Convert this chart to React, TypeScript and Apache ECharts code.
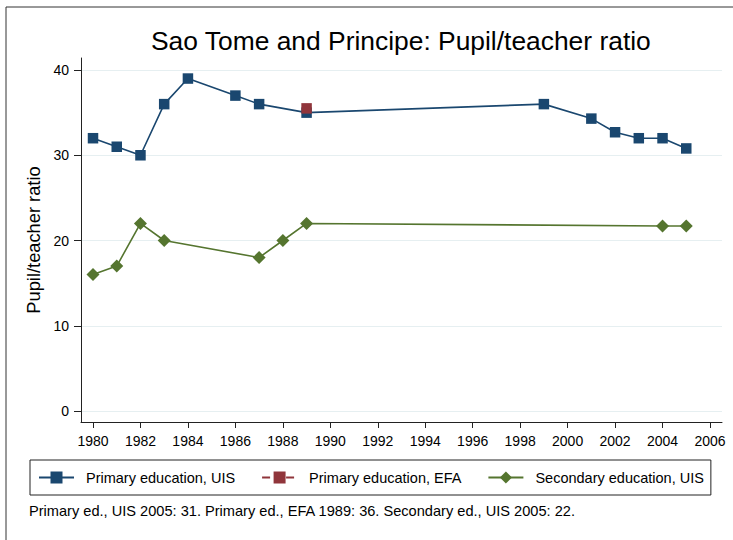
import React, { useEffect, useRef } from "react";
import * as echarts from "echarts";

const primaryUISYears = [1980, 1981, 1982, 1983, 1984, 1986, 1987, 1989, 1999, 2001, 2002, 2003, 2004, 2005];
const primaryUISValues = [32, 31, 30, 36, 39, 37, 36, 35, 36, 34.3, 32.7, 32, 32, 30.8];
const primaryEFAYears = [1989];
const primaryEFAValues = [35.5];
const secondaryUISYears = [1980, 1981, 1982, 1983, 1987, 1988, 1989, 2004, 2005];
const secondaryUISValues = [16, 17, 22, 20, 18, 20, 22, 21.7, 21.7];
const xTicks = [1980, 1982, 1984, 1986, 1988, 1990, 1992, 1994, 1996, 1998, 2000, 2002, 2004, 2006];
const yTicks = [0, 10, 20, 30, 40];

const seriesNames = ["Primary education, UIS", "Primary education, EFA", "Secondary education, UIS"];
const titleText = "Sao Tome and Principe: Pupil/teacher ratio";
const yAxisTitle = "Pupil/teacher ratio";
const noteText = "Primary ed., UIS 2005: 31. Primary ed., EFA 1989: 36. Secondary ed., UIS 2005: 22.";

const zip = (xs: number[], ys: number[]) => xs.map((x, i) => [x, ys[i]]);

const FONT = "Liberation Sans, Arial, Helvetica, sans-serif";
const NAVY = "#1a476f";
const MAROON = "#90353b";
const GREEN = "#55752f";
const AXIS = "#222";

export default function App() {
  const ref = useRef<HTMLDivElement>(null);
  useEffect(() => {
    if (!ref.current) return;
    const chart = echarts.init(ref.current, undefined, { renderer: "svg" });
    chart.setOption({
      animation: false,
      backgroundColor: "#fff",
      textStyle: { fontFamily: FONT },
      title: {
        text: titleText,
        left: 151,
        top: 28,
        padding: 0,
        textStyle: { fontSize: 26.4, fontWeight: "normal", color: "#000", fontFamily: FONT, lineHeight: 26 },
      },
      grid: { left: 81, right: 11, top: 58, bottom: 118, containLabel: false },
      xAxis: {
        type: "value",
        min: 1979.494,
        max: 2006.506,
        axisLine: { show: true, onZero: false, lineStyle: { color: AXIS, width: 1 } },
        axisTick: { show: true, length: 6, customValues: xTicks, lineStyle: { color: AXIS } },
        axisLabel: {
          customValues: xTicks,
          margin: 12,
          fontSize: 14,
          color: "#000",
          fontFamily: FONT,
          formatter: (v: number) => String(v),
        },
        splitLine: { show: false },
      },
      yAxis: {
        type: "value",
        min: -1.29,
        max: 41.41,
        name: yAxisTitle,
        nameLocation: "middle",
        nameGap: 33,
        nameTextStyle: { fontSize: 18.3, color: "#000", fontFamily: FONT },
        axisLine: { show: true, onZero: false, lineStyle: { color: AXIS, width: 1 } },
        axisTick: { show: true, length: 7, customValues: yTicks, lineStyle: { color: AXIS } },
        axisLabel: {
          customValues: yTicks,
          margin: 12,
          fontSize: 14,
          color: "#000",
          fontFamily: FONT,
          formatter: (v: number) => String(v),
        },
        splitLine: { show: true, customValues: yTicks, lineStyle: { color: "#e6eff1", width: 1.2 } },
      },
      legend: {
        left: 30,
        top: 460,
        orient: "horizontal",
        itemWidth: 35,
        itemHeight: 15,
        itemGap: 26,
        padding: [9, 7, 9, 8],
        borderColor: AXIS,
        borderWidth: 1,
        data: seriesNames,
        textStyle: { fontSize: 14.5, lineHeight: 17, color: "#000", fontFamily: FONT, padding: [0, 0, 0, 7] },
      },
      series: [
        {
          name: seriesNames[0],
          type: "line",
          data: zip(primaryUISYears, primaryUISValues),
          symbol: "rect",
          symbolSize: 10.5,
          color: NAVY,
          lineStyle: { color: NAVY, width: 1.6 },
          itemStyle: { color: NAVY },
          z: 2,
        },
        {
          name: seriesNames[1],
          type: "line",
          data: zip(primaryEFAYears, primaryEFAValues),
          symbol: "rect",
          symbolSize: 10.5,
          color: MAROON,
          lineStyle: { color: MAROON, width: 1.6, type: "dashed" },
          itemStyle: { color: MAROON },
          z: 3,
        },
        {
          name: seriesNames[2],
          type: "line",
          data: zip(secondaryUISYears, secondaryUISValues),
          symbol: "diamond",
          symbolSize: 13,
          color: GREEN,
          lineStyle: { color: GREEN, width: 1.6 },
          itemStyle: { color: GREEN },
          z: 2,
        },
      ],
      graphic: [
        { type: "line", shape: { x1: 6, y1: 7, x2: 733, y2: 7 }, style: { stroke: "#333", lineWidth: 1 } },
        { type: "line", shape: { x1: 6, y1: 7, x2: 6, y2: 540 }, style: { stroke: "#333", lineWidth: 1 } },
        {
          type: "text",
          x: 29,
          y: 511,
          style: { text: noteText, fontSize: 14.6, fill: "#000", fontFamily: FONT, verticalAlign: "middle", align: "left" },
        },
      ],
    });
    return () => chart.dispose();
  }, []);
  return <div ref={ref} style={{ position: "absolute", left: 0, top: 0, width: 733, height: 540 }} />;
}
